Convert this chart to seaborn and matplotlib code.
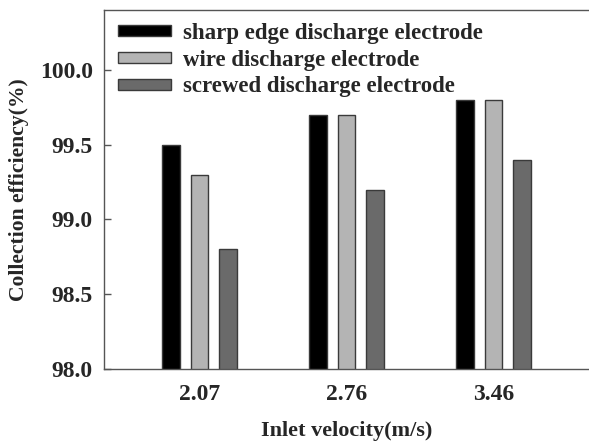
import matplotlib
matplotlib.use("Agg")
import matplotlib.pyplot as plt
import seaborn as sns
import pandas as pd

velocities = ["2.07", "2.76", "3.46"]
sharp_edge = [99.5, 99.7, 99.8]
wire = [99.3, 99.7, 99.8]
screwed = [98.8, 99.2, 99.4]
series_names = ["sharp edge discharge electrode",
                "wire discharge electrode",
                "screwed discharge electrode"]
y_ticks = [98.0, 98.5, 99.0, 99.5, 100.0]

df = pd.DataFrame({
    "velocity": velocities * 3,
    "efficiency": sharp_edge + wire + screwed,
    "electrode": [n for n in series_names for _ in velocities],
})

sns.set_theme(style="white")
plt.rcParams["font.family"] = ["Liberation Serif", "DejaVu Serif"]
plt.rcParams["font.weight"] = "bold"

fig = plt.figure(figsize=(5.89, 4.42), dpi=100)
ax = fig.add_axes([104 / 589, (442 - 369) / 442, 485 / 589, 359 / 442])

palette = {series_names[0]: "#000000",
           series_names[1]: "#b4b4b4",
           series_names[2]: "#6a6a6a"}

sns.barplot(data=df, x="velocity", y="efficiency", hue="electrode",
            hue_order=series_names, order=velocities, palette=palette,
            width=0.59, gap=0.38, edgecolor="#3a3a3a", linewidth=1.0,
            saturation=1, ax=ax, errorbar=None)

ax.set_ylim(98.0, 100.4)
ax.set_xlim(-0.65, 2.65)
ax.set_yticks(y_ticks)
ax.set_yticklabels([f"{t:.1f}" for t in y_ticks], fontsize=17, fontweight="bold")
ax.set_xticks(range(len(velocities)))
ax.set_xticklabels(velocities, fontsize=17, fontweight="bold")
ax.tick_params(axis="y", direction="in", length=5, width=1, color="#555555",
               left=True, pad=8)
ax.tick_params(axis="x", length=0, pad=11)

for side in ["left", "top", "bottom"]:
    ax.spines[side].set_color("#555555")
    ax.spines[side].set_linewidth(1.0)
ax.spines["right"].set_visible(False)

ax.set_xlabel("Inlet velocity(m/s)", fontsize=16, fontweight="bold", labelpad=11)
ax.set_ylabel("Collection efficiency(%)", fontsize=15.6, fontweight="bold", labelpad=8)

leg = ax.legend(loc="upper left", bbox_to_anchor=(14 / 485, 1 - 13 / 359),
                frameon=False, borderpad=0, borderaxespad=0,
                handlelength=2.3, handleheight=0.35, handletextpad=0.52,
                labelspacing=0.25, prop={"size": 16.5, "weight": "bold"})

fig.savefig("out.png", dpi=100)
